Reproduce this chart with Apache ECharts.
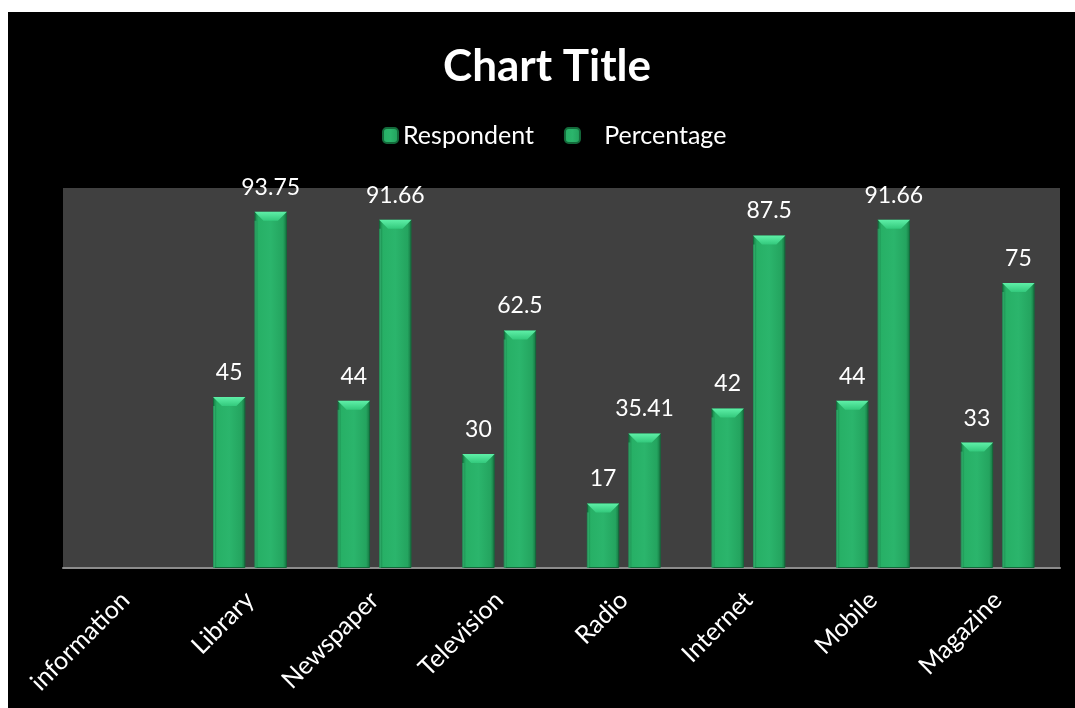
<!DOCTYPE html>
<html>
<head>
<meta charset="utf-8">
<script src="https://cdn.jsdelivr.net/npm/echarts@6/dist/echarts.min.js"></script>
<style>
  html, body { margin: 0; padding: 0; background: #ffffff; }
  #chart { position: absolute; left: 8px; top: 12px; width: 1067px; height: 696px; background: #000000; }
</style>
</head>
<body>
<div id="chart"></div>
<script>
// Information sources and survey responses
const categories = ['information', 'Library', 'Newspaper', 'Television', 'Radio', 'Internet', 'Mobile', 'Magazine'];
const respondent = [null, 45, 44, 30, 17, 42, 44, 33];
const percentage = [null, 93.75, 91.66, 62.5, 35.41, 87.5, 91.66, 75];
const seriesNames = ['Respondent', 'Percentage'];

const FONT = 'Lato, "Noto Sans", sans-serif';
const BAR_WIDTH_RATIO = 0.26;
const BAR_GAP_RATIO = 0.28;

const barFill = new echarts.graphic.LinearGradient(0, 0, 1, 0, [
  { offset: 0, color: '#167a44' },
  { offset: 0.12, color: '#27b066' },
  { offset: 0.5, color: '#2bb56c' },
  { offset: 0.88, color: '#24a45f' },
  { offset: 1, color: '#157240' }
]);

// Bevelled cap drawn on top of each bar, positioned with the axis scales
function bevelRenderer(side) {
  return function (params, api) {
    const cat = api.value(0);
    const val = api.value(1);
    if (val == null || isNaN(val)) return null;
    const top = api.coord([cat, val]);
    const base = api.coord([cat, 0]);
    const band = api.size([1, 0])[0];
    const w = band * BAR_WIDTH_RATIO;
    const gap = w * BAR_GAP_RATIO;
    const cx = top[0] + side * (w + gap) / 2;
    const x0 = cx - w / 2, x1 = cx + w / 2;
    const y0 = top[1];
    const b = Math.min(9, (base[1] - y0) / 2);
    return {
      type: 'group',
      children: [
        {
          type: 'polygon',
          shape: { points: [[x0, y0], [x1, y0], [x1 - b, y0 + b], [x0 + b, y0 + b]] },
          style: {
            fill: new echarts.graphic.LinearGradient(0, 0, 0, 1, [
              { offset: 0, color: '#5ff0a8' },
              { offset: 1, color: '#33c97c' }
            ])
          }
        },
        {
          type: 'rect',
          shape: { x: x0, y: y0 + b, width: 2, height: base[1] - y0 - b },
          style: { fill: 'rgba(80,220,150,0.35)' }
        }
      ]
    };
  };
}

const chart = echarts.init(document.getElementById('chart'));
chart.setOption({
  backgroundColor: '#000000',
  textStyle: { fontFamily: FONT },
  title: {
    text: 'Chart Title',
    left: 534,
    textAlign: 'center',
    top: 28,
    textStyle: { color: '#ffffff', fontSize: 44, fontWeight: 'bold', fontFamily: FONT }
  },
  legend: {
    data: seriesNames,
    top: 106,
    left: 369,
    itemWidth: 15,
    itemHeight: 15,
    itemGap: 30,
    formatter: function (name) { return name === 'Percentage' ? '   ' + name : name; },
    textStyle: { color: '#ffffff', fontSize: 25, fontFamily: FONT }
  },
  grid: {
    left: 55, right: 15, top: 176, bottom: 140,
    show: true, backgroundColor: '#404040', borderWidth: 0
  },
  xAxis: {
    type: 'category',
    data: categories,
    axisLine: { lineStyle: { color: '#8c8c8c', width: 2 } },
    axisTick: { show: false },
    axisLabel: { color: '#ffffff', fontSize: 25, rotate: 45, margin: 28, interval: 0, fontFamily: FONT }
  },
  yAxis: {
    type: 'value', min: 0, max: 100, show: false
  },
  series: [
    {
      name: seriesNames[0],
      type: 'bar',
      data: respondent,
      barWidth: (BAR_WIDTH_RATIO * 100) + '%',
      barGap: (BAR_GAP_RATIO * 100) + '%',
      itemStyle: { color: barFill, borderColor: '#146a3b', borderWidth: 1 },
      label: { show: true, position: 'top', distance: 13, color: '#ffffff', fontSize: 23, fontFamily: FONT }
    },
    {
      name: seriesNames[1],
      type: 'bar',
      data: percentage,
      barWidth: (BAR_WIDTH_RATIO * 100) + '%',
      barGap: (BAR_GAP_RATIO * 100) + '%',
      itemStyle: { color: barFill, borderColor: '#146a3b', borderWidth: 1 },
      label: { show: true, position: 'top', distance: 13, color: '#ffffff', fontSize: 23, fontFamily: FONT }
    },
    {
      type: 'custom',
      silent: true,
      z: 5,
      renderItem: bevelRenderer(-1),
      data: respondent.map(function (v, i) { return [i, v]; })
    },
    {
      type: 'custom',
      silent: true,
      z: 5,
      renderItem: bevelRenderer(1),
      data: percentage.map(function (v, i) { return [i, v]; })
    }
  ]
});
</script>
</body>
</html>
